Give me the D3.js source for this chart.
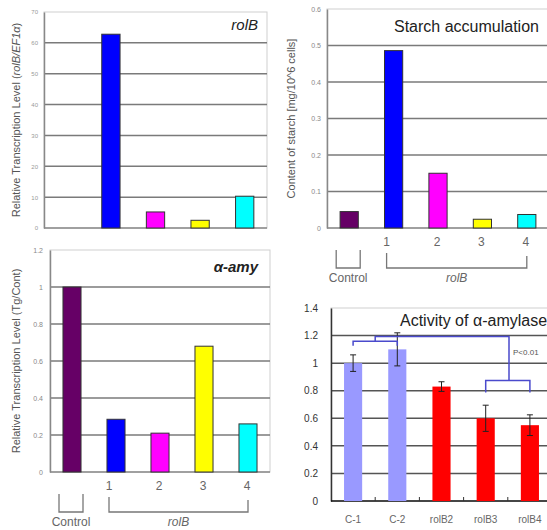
<!DOCTYPE html>
<html>
<head>
<meta charset="utf-8">
<script src="https://cdn.jsdelivr.net/npm/d3@7"></script>
<style>
  body { margin: 0; background: #fff; }
  svg { font-family: "Liberation Sans", Arial, sans-serif; display: block; }
</style>
</head>
<body>
<svg id="chart" width="547" height="530"></svg>
<script>
// categories shared by the three transcription / starch panels
var groups = ["Control", "1", "2", "3", "4"];
var groupColors = ["#660066", "#0000ff", "#ff00ff", "#ffff00", "#00ffff"];

// rolB transcription (rolB/EF1a)
var rolbLevel = [0, 62.8, 5.2, 2.5, 10.3];
var rolbTicks = [0, 10, 20, 30, 40, 50, 60, 70];

// starch content (mg/10^6 cells)
var starchContent = [0.045, 0.486, 0.15, 0.024, 0.037];
var starchTicks = [0, 0.1, 0.2, 0.3, 0.4, 0.5, 0.6];

// alpha-amylase transcription (Tg/Cont)
var amyLevel = [1.0, 0.285, 0.21, 0.68, 0.26];
var amyTicks = [0, 0.2, 0.4, 0.6, 0.8, 1, 1.2];

// alpha-amylase activity
var lines = ["C-1", "C-2", "rolB2", "rolB3", "rolB4"];
var activityMean = [1.0, 1.1, 0.83, 0.6, 0.55];
var activityErr = [0.06, 0.12, 0.035, 0.095, 0.075];
var lineColors = ["#9999ff", "#9999ff", "#ff0000", "#ff0000", "#ff0000"];
var activityTicks = [0, 0.2, 0.4, 0.6, 0.8, 1, 1.2, 1.4];

var svg = d3.select("#chart");

function barPanel(opt) {
    var x = d3.scaleBand().domain(opt.cats).range([opt.left, opt.right])
        .paddingInner(0.59).paddingOuter(0.295);
    var y = d3.scaleLinear().domain(opt.domain).range([opt.bottom, opt.top]);
    var g = svg.append("g");

    // frame
    g.append("rect")
        .attr("x", opt.left).attr("y", opt.top)
        .attr("width", opt.right - opt.left).attr("height", opt.bottom - opt.top)
        .attr("fill", "#fff").attr("stroke", "#cfcfcf").attr("stroke-width", 1);

    // grid lines
    g.selectAll(".grid").data(opt.ticks.filter(function (t) { return t > 0 && t < opt.domain[1]; }))
        .enter().append("line")
        .attr("x1", opt.left).attr("x2", opt.right)
        .attr("y1", function (d) { return y(d); }).attr("y2", function (d) { return y(d); })
        .attr("stroke", opt.gridColor).attr("stroke-width", 1.5);

    // y axis
    var yAxis = g.append("g")
        .attr("transform", "translate(" + opt.left + ",0)")
        .call(d3.axisLeft(y).tickValues(opt.ticks).tickSize(0).tickPadding(opt.tickPad).tickFormat(d3.format("")));
    yAxis.select(".domain").attr("stroke", opt.axisColor).attr("stroke-width", 1.5);
    yAxis.selectAll("text").attr("fill", opt.tickColor).style("font-size", opt.tickSize + "px");

    // x axis line
    g.append("line")
        .attr("x1", opt.left).attr("x2", opt.right)
        .attr("y1", opt.bottom).attr("y2", opt.bottom)
        .attr("stroke", opt.baseColor).attr("stroke-width", 1.5);

    // bars
    g.selectAll(".bar").data(opt.values)
        .enter().append("rect")
        .attr("x", function (d, i) { return x(opt.cats[i]); })
        .attr("y", function (d) { return y(d); })
        .attr("width", x.bandwidth())
        .attr("height", function (d) { return opt.bottom - y(d); })
        .attr("fill", function (d, i) { return opt.colors[i]; })
        .attr("stroke", opt.barStroke)
        .attr("stroke-width", opt.barStroke === "none" ? 0 : 1)
        .style("display", function (d) { return d > 0 ? null : "none"; });

    // y label
    if (opt.yLabel) {
        var t = g.append("text")
            .attr("transform", "translate(" + opt.yLabelX + "," + ((opt.top + opt.bottom) / 2) + ") rotate(-90)")
            .attr("text-anchor", "middle").attr("fill", "#555").style("font-size", "11px");
        opt.yLabel.forEach(function (part) {
            t.append("tspan").text(part[0]).style("font-style", part[1] ? "italic" : "normal");
        });
    }

    // title
    g.append("text")
        .attr("x", opt.titleX).attr("y", opt.titleY)
        .attr("text-anchor", opt.titleAnchor)
        .attr("fill", "#222")
        .style("font-size", opt.titleSize + "px")
        .style("font-style", opt.titleItalic ? "italic" : "normal")
        .style("font-weight", opt.titleBold ? "bold" : "normal")
        .text(opt.title);

    return { x: x, y: y, g: g };
}

// group labels and Control / rolB brackets under a panel
function groupBrackets(p, bottom) {
    var c = function (k) { return p.x(k) + p.x.bandwidth() / 2; };
    var lab = p.g.append("g").attr("fill", "#666").style("font-size", "12px");
    groups.slice(1).forEach(function (k, i) {
        lab.append("text")
            .attr("x", i === 0 ? c(k) - 7 : c(k) - 1).attr("y", bottom + 18)
            .attr("text-anchor", "middle").text(k);
    });
    var br = p.g.append("g").attr("fill", "none").attr("stroke", "#777").attr("stroke-width", 1.3);
    var cx = c("Control") - 1;
    br.append("path").attr("d", "M" + (cx - 12) + "," + (bottom + 22) + "V" + (bottom + 40) +
        "H" + (cx + 12) + "V" + (bottom + 22));
    br.append("path").attr("d", "M" + (c("1") - 7) + "," + (bottom + 25) + "V" + (bottom + 40) +
        "H" + c("4") + "V" + (bottom + 28));
    lab.append("text").attr("x", cx).attr("y", bottom + 54).attr("text-anchor", "middle").text("Control");
    lab.append("text").attr("x", (c("1") - 7 + c("4")) / 2).attr("y", bottom + 54)
        .attr("text-anchor", "middle").style("font-style", "italic").text("rolB");
}

// top left: rolB transcription
barPanel({
    cats: groups, values: rolbLevel, colors: groupColors, domain: [0, 70], ticks: rolbTicks,
    left: 44, right: 267, top: 12, bottom: 228,
    gridColor: "#7a7a7a", axisColor: "#888", baseColor: "#888", tickColor: "#999", tickSize: 6, tickPad: 6,
    barStroke: "#333",
    yLabel: [["Relative Transcription Level ("], ["rolB/EF1\u03b1", true], [")"]], yLabelX: 20,
    title: "rolB", titleX: 258, titleY: 30, titleAnchor: "end", titleSize: 15, titleItalic: true
});

// top right: starch accumulation
var p2 = barPanel({
    cats: groups, values: starchContent, colors: groupColors, domain: [0, 0.6], ticks: starchTicks,
    left: 327, right: 549, top: 9, bottom: 228,
    gridColor: "#7a7a7a", axisColor: "#888", baseColor: "#888", tickColor: "#888", tickSize: 7, tickPad: 6,
    barStroke: "#333",
    yLabel: [["Content of starch [mg/10^6 cells]"]], yLabelX: 295,
    title: "Starch accumulation", titleX: 394, titleY: 32, titleAnchor: "start", titleSize: 16
});
groupBrackets(p2, 228);

// bottom left: alpha-amylase transcription
var p3 = barPanel({
    cats: groups, values: amyLevel, colors: groupColors, domain: [0, 1.2], ticks: amyTicks,
    left: 50, right: 270, top: 250, bottom: 472,
    gridColor: "#7a7a7a", axisColor: "#888", baseColor: "#888", tickColor: "#888", tickSize: 7, tickPad: 7,
    barStroke: "#333",
    yLabel: [["Relative Transcription Level (Tg/Cont)"]], yLabelX: 20,
    title: "\u03b1-amy", titleX: 258, titleY: 272, titleAnchor: "end", titleSize: 15, titleItalic: true, titleBold: true
});
groupBrackets(p3, 472);

// bottom right: alpha-amylase activity
var p4 = barPanel({
    cats: lines, values: activityMean, colors: lineColors, domain: [0, 1.4], ticks: activityTicks,
    left: 331, right: 552, top: 308, bottom: 501,
    gridColor: "#555", axisColor: "#333", baseColor: "#111", tickColor: "#333", tickSize: 10, tickPad: 13,
    barStroke: "none",
    title: "Activity of \u03b1-amylase", titleX: 400, titleY: 326, titleAnchor: "start", titleSize: 16
});

var c4 = function (k) { return p4.x(k) + p4.x.bandwidth() / 2; };

// boundary ticks on the x axis
p4.g.selectAll(".xt").data(lines.slice(1))
    .enter().append("line")
    .attr("x1", function (d) { return p4.x(d) - p4.x.step() * p4.x.paddingInner() / 2; })
    .attr("x2", function (d) { return p4.x(d) - p4.x.step() * p4.x.paddingInner() / 2; })
    .attr("y1", 497).attr("y2", 501).attr("stroke", "#333");

// error bars
var eb = p4.g.append("g").attr("stroke", "#222").attr("stroke-width", 1);
activityMean.forEach(function (m, i) {
    var cx = c4(lines[i]);
    eb.append("line").attr("x1", cx).attr("x2", cx)
        .attr("y1", p4.y(m - activityErr[i])).attr("y2", p4.y(m + activityErr[i]));
    [m - activityErr[i], m + activityErr[i]].forEach(function (v) {
        eb.append("line").attr("x1", cx - 3).attr("x2", cx + 3)
            .attr("y1", p4.y(v)).attr("y2", p4.y(v));
    });
});

// x labels
p4.g.selectAll(".xl").data(lines)
    .enter().append("text")
    .attr("x", function (d) { return c4(d); }).attr("y", 523)
    .attr("text-anchor", "middle").attr("fill", "#666").style("font-size", "10px")
    .text(function (d) { return d; });

// significance brackets
var sig = p4.g.append("g").attr("fill", "none").attr("stroke", "#4a4acc").attr("stroke-width", 1.5);
var y4 = p4.y;
var midC = (c4("C-1") + c4("C-2")) / 2;
var jx = 509;
sig.append("path").attr("d", "M" + c4("C-1") + "," + y4(1.126) + "V" + y4(1.158) + "H" + c4("C-2") + "V" + y4(1.126));
sig.append("path").attr("d", "M" + midC + "," + y4(1.158) + "V" + y4(1.194) + "H" + jx + "V" + y4(0.874));
sig.append("path").attr("d", "M" + c4("rolB3") + "," + y4(0.787) + "V" + y4(0.874) + "H" + c4("rolB4") + "V" + y4(0.787));
p4.g.append("text").attr("x", 513).attr("y", 355).attr("fill", "#555").style("font-size", "8px").text("P<0.01");
</script>
</body>
</html>
